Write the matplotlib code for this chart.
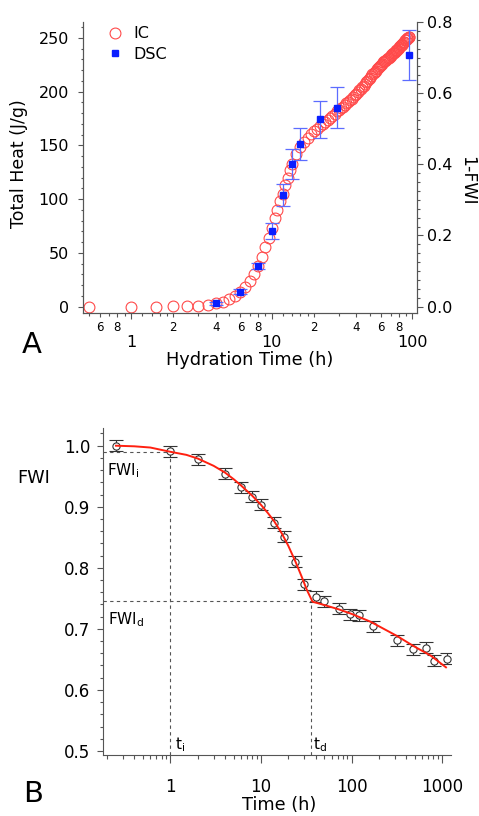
import numpy as np
import matplotlib
matplotlib.use('Agg')
import matplotlib.pyplot as plt
from matplotlib.ticker import FixedLocator, MultipleLocator, FuncFormatter, NullFormatter, LogLocator
from matplotlib.lines import Line2D

# ---- Panel A: calor total (IC) y DSC ----
ic_time = [0.5, 1, 1.5, 2, 2.5, 3, 3.5, 4, 4.5, 5, 5.5, 6, 6.5, 7, 7.5, 8, 8.5, 9, 9.5, 10,
           10.5, 11, 11.5, 12, 12.5, 13, 13.5, 14, 15, 16, 17, 18, 19, 20, 21, 22, 23, 24, 25,
           26, 27, 28, 29, 30, 31, 32, 33, 34, 35, 36, 37, 38, 39, 40, 41, 42, 43, 44, 45,
           46, 47, 48, 49, 50, 51, 52, 53, 54, 55, 56, 57, 58, 59, 60, 61, 62, 63, 64, 65,
           66, 67, 68, 69, 70, 71, 72, 73, 74, 75, 76, 77, 78, 79, 80, 81, 82, 83, 84, 85,
           86, 87, 88, 89, 90, 91, 92, 93, 94, 95]
ic_heat = [0, 0, 0, 0.2, 0.5, 1.0, 1.8, 3.0, 4.6, 6.8, 9.8, 13.5, 18, 23.5, 30, 37.5, 46, 55, 64, 73,
           82, 90, 98, 105, 113, 120, 127, 133, 142, 148, 153, 157, 160.5, 163, 165.5, 167.5, 169.5, 171.5, 173.5,
           175.5, 177.5, 179.5, 181.5, 183, 184.5, 186, 187.5, 189, 190.5, 192, 193.5, 195, 196.5, 198, 199.5, 201, 202.5, 204, 205.5,
           207, 208.5, 210, 211.5, 213, 214.5, 216, 217, 218.5, 219.5, 221, 222, 223, 224, 225, 226, 227, 228, 228.5, 229.5,
           230, 231, 231.5, 232.5, 233, 234, 234.5, 235.5, 236, 237, 237.5, 238.5, 239, 240, 240.5, 241.5, 242, 243, 243.5, 244.5,
           245, 246, 246.5, 247.5, 248, 249, 249.5, 250, 250.5, 251]

dsc_time = [4, 6, 8, 10, 12, 14, 16, 22, 29, 94]
dsc_heat = [3, 14, 38, 70, 104, 133, 151, 174, 185, 234]
dsc_err = [1.5, 2, 3, 7.5, 10, 14, 15, 17.5, 19, 23]

heat_per_fwi = 330.8   # escala del eje derecho (1-FWI)

# ---- Panel B: FWI vs tiempo ----
fwi_time = [0.25, 1, 2, 4, 6, 8, 10, 14, 18, 24, 30, 40, 50, 72, 95, 120, 170, 320, 470, 660, 810, 1130]
fwi_val = [1.0, 0.991, 0.978, 0.954, 0.932, 0.916, 0.903, 0.874, 0.851, 0.810, 0.773, 0.753, 0.745,
           0.733, 0.724, 0.722, 0.704, 0.681, 0.667, 0.669, 0.648, 0.651]
fwi_err = [0.009] * len(fwi_time)

fit_time = [0.25, 0.4, 0.6, 1, 1.5, 2, 3, 4, 5, 6, 8, 10, 12, 14, 17, 20, 24, 28, 32, 37,
            50, 72, 100, 160, 220, 320, 480, 750, 1100]
fit_fwi = [1.0, 0.999, 0.997, 0.990, 0.985, 0.979, 0.967, 0.956, 0.945, 0.935, 0.918, 0.903, 0.889,
           0.876, 0.856, 0.836, 0.810, 0.786, 0.764, 0.7445,
           0.739, 0.732, 0.7245, 0.712, 0.701, 0.688, 0.672, 0.656, 0.637]

t_i, fwi_i = 1.0, 0.989
t_d, fwi_d = 36.0, 0.7455

W, H = 479, 816
fig = plt.figure(figsize=(W / 100, H / 100), dpi=100)
plt.rcParams['font.family'] = ['DejaVu Sans']

spine_col = '#555555'


def ejes_px(left, top, right, bottom):
    return fig.add_axes([left / W, 1 - bottom / H, (right - left) / W, (bottom - top) / H])


def texto_px(x, y, s, **kw):
    return fig.text(x / W, 1 - y / H, s, **kw)


def digito(v, pos):
    return '%d' % round(v / 10 ** np.floor(np.log10(v) + 1e-9))


def estilo_spines(ax):
    for sp in ax.spines.values():
        sp.set_color(spine_col)
        sp.set_linewidth(0.8)
    ax.tick_params(which='both', direction='out', color=spine_col, width=0.8)


# ================= Panel A =================
fwi_top = 0.8 + 1e-6
axA = ejes_px(83, 22, 417, 313)
axA.plot(ic_time, ic_heat, 'o', mfc='none', mec='#ff4a4a', ms=7.8, mew=0.8, zorder=2)
axA.errorbar(dsc_time, dsc_heat, yerr=dsc_err, fmt='none', ecolor='#5c6cff',
             elinewidth=0.9, capsize=5, capthick=0.9, zorder=3)
axA.plot(dsc_time, dsc_heat, 's', color='#0a1eff', ms=5, zorder=4)

axA.set_xscale('log')
axA.set_xlim(0.456, 108)
axA.set_ylim(-5.9, fwi_top * heat_per_fwi)
axA.spines['top'].set_visible(False)
estilo_spines(axA)

axA.xaxis.set_major_locator(FixedLocator([1, 10, 100]))
axA.xaxis.set_major_formatter(FuncFormatter(lambda v, p: '%g' % v))
axA.xaxis.set_minor_locator(FixedLocator([0.6, 0.8, 2, 4, 6, 8, 20, 40, 60, 80]))
axA.xaxis.set_minor_formatter(FuncFormatter(digito))
axA.tick_params(axis='x', which='major', length=4.3, pad=11.5, labelsize=11.5)
axA.tick_params(axis='x', which='minor', length=3, pad=2.5, labelsize=8.5)

# marcas pequeñas sin etiqueta
sub = axA.secondary_xaxis('bottom')
sub.set_xscale('log')
sub.xaxis.set_major_locator(FixedLocator([0.5, 0.7, 0.9, 3, 5, 7, 9, 30, 50, 70, 90,
                                          1.2, 1.4, 1.6, 1.8, 12, 14, 16, 18]))
sub.xaxis.set_major_formatter(NullFormatter())
sub.xaxis.set_minor_locator(FixedLocator([]))
sub.tick_params(length=2, direction='out', color=spine_col, width=0.8)
sub.spines['bottom'].set_visible(False)

axA.yaxis.set_major_locator(MultipleLocator(50))
axA.yaxis.set_minor_locator(MultipleLocator(10))
axA.tick_params(axis='y', which='major', length=3.6, pad=6.5, labelsize=11.5)
axA.tick_params(axis='y', which='minor', length=1.8)

ax2 = axA.twinx()
ax2.set_ylim(-5.9 / heat_per_fwi, fwi_top)
ax2.spines['top'].set_visible(False)
estilo_spines(ax2)
ax2.yaxis.set_major_locator(MultipleLocator(0.2))
ax2.yaxis.set_minor_locator(MultipleLocator(0.025))
ax2.yaxis.set_major_formatter(FuncFormatter(lambda v, p: '%.1f' % v))
ax2.tick_params(axis='y', which='major', length=4.3, pad=3, labelsize=11.5)
ax2.tick_params(axis='y', which='minor', length=1.8)

handles = [Line2D([], [], ls='none', marker='o', mfc='none', mec='#ff4a4a', ms=7.8, mew=0.8),
           Line2D([], [], ls='none', marker='s', color='#0a1eff', ms=5)]
axA.legend(handles, ['IC', 'DSC'], loc='upper left', bbox_to_anchor=(0.071, 0.985),
           frameon=False, fontsize=11.5, handlelength=1.0, handletextpad=0.7,
           labelspacing=0.35, borderpad=0, borderaxespad=0)

texto_px(19, 164, 'Total Heat (J/g)', rotation=90, ha='center', va='center', fontsize=12.5)
texto_px(467, 181, '1-FWI', rotation=270, ha='center', va='center', fontsize=12.5)
texto_px(250, 365, 'Hydration Time (h)', ha='center', va='baseline', fontsize=12.8)
texto_px(22, 353, 'A', ha='left', va='baseline', fontsize=21)

# ================= Panel B =================
axB = ejes_px(103, 428, 451, 755)
axB.errorbar(fwi_time, fwi_val, yerr=fwi_err, fmt='o', mfc='white', mec='#333333', ms=5.2, mew=0.8,
             ecolor='#333333', elinewidth=0.8, capsize=5, capthick=0.8, zorder=2)
axB.plot(fit_time, fit_fwi, color='#ff2010', lw=1.4, zorder=3)

axB.set_xscale('log')
axB.set_xlim(0.18, 1250)
axB.set_ylim(0.4934, 1.029)
axB.spines['top'].set_visible(False)
axB.spines['right'].set_visible(False)
estilo_spines(axB)

dash = dict(color='#555555', lw=0.8, ls=(0, (3, 3)), zorder=1)
axB.hlines(fwi_i, 0.18, t_i, **dash)
axB.vlines(t_i, 0.4934, fwi_i, **dash)
axB.hlines(fwi_d, 0.18, t_d, **dash)
axB.vlines(t_d, 0.4934, fwi_d, **dash)

axB.xaxis.set_major_locator(FixedLocator([1, 10, 100, 1000]))
axB.xaxis.set_major_formatter(FuncFormatter(lambda v, p: '%g' % v))
axB.xaxis.set_minor_locator(LogLocator(base=10, subs=np.arange(2, 10), numticks=20))
axB.xaxis.set_minor_formatter(NullFormatter())
axB.tick_params(axis='x', which='major', length=5.8, pad=10.5, labelsize=12)
axB.tick_params(axis='x', which='minor', length=3)

axB.yaxis.set_major_locator(MultipleLocator(0.1))
axB.yaxis.set_minor_locator(MultipleLocator(0.02))
axB.yaxis.set_major_formatter(FuncFormatter(lambda v, p: '%.1f' % v))
axB.tick_params(axis='y', which='major', length=4.3, pad=5, labelsize=12)
axB.tick_params(axis='y', which='minor', length=2.2)

texto_px(107, 475, r'FWI$_\mathregular{i}$', ha='left', va='baseline', fontsize=11)
texto_px(108, 624, r'FWI$_\mathregular{d}$', ha='left', va='baseline', fontsize=11)
texto_px(175, 749, r't$_\mathregular{i}$', ha='left', va='baseline', fontsize=11)
texto_px(313, 749, r't$_\mathregular{d}$', ha='left', va='baseline', fontsize=11)

texto_px(17, 483, 'FWI', ha='left', va='baseline', fontsize=12.8)
texto_px(279, 810, 'Time (h)', ha='center', va='baseline', fontsize=12.8)
texto_px(23, 802, 'B', ha='left', va='baseline', fontsize=21)

fig.savefig('out.png', dpi=100)
